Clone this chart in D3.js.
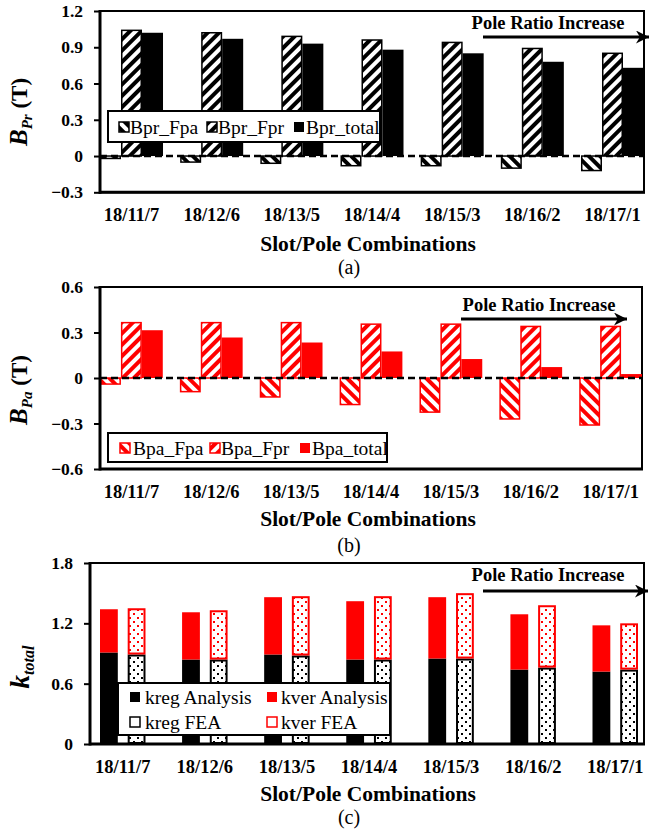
<!DOCTYPE html>
<html><head><meta charset="utf-8">
<script src="https://cdn.jsdelivr.net/npm/d3@7"></script>
<style>
body{margin:0;background:#fff;}
svg{display:block;}
svg text{font-family:"Liberation Serif","Times New Roman",serif !important;}
</style></head><body>
<svg id="chart" width="667" height="829"></svg>
<script>
// ---------- data ----------
const categories = ["18/11/7","18/12/6","18/13/5","18/14/4","18/15/3","18/16/2","18/17/1"];
const bprFpa   = [-0.02,-0.05,-0.06,-0.08,-0.08,-0.10,-0.12];
const bprFpr   = [1.04,1.02,0.99,0.96,0.94,0.89,0.85];
const bprTotal = [1.02,0.97,0.93,0.88,0.85,0.78,0.73];
const bpaFpa   = [-0.04,-0.09,-0.125,-0.175,-0.225,-0.27,-0.31];
const bpaFpr   = [0.365,0.365,0.365,0.355,0.355,0.34,0.34];
const bpaTotal = [0.315,0.267,0.234,0.175,0.125,0.072,0.026];
const kregAnalysis = [0.91,0.84,0.89,0.84,0.85,0.74,0.72];
const kverAnalysis = [0.43,0.47,0.57,0.58,0.61,0.55,0.46];
const kregFEA      = [0.89,0.84,0.88,0.84,0.85,0.76,0.74];
const kverFEA      = [0.46,0.49,0.59,0.63,0.65,0.62,0.46];
const ticksBpr = [-0.3,0,0.3,0.6,0.9,1.2];
const ticksBpa = [-0.6,-0.3,0,0.3,0.6];
const ticksK   = [0,0.6,1.2,1.8];
const legendBpr = ["Bpr_Fpa","Bpr_Fpr","Bpr_total"];
const legendBpa = ["Bpa_Fpa","Bpa_Fpr","Bpa_total"];
const legendK   = ["kreg Analysis","kver Analysis","kreg FEA","kver FEA"];
const xTitle = "Slot/Pole Combinations";
const arrowText = "Pole Ratio Increase";

// ---------- setup ----------
const FONT = "Liberation Serif, Times New Roman, serif";
const RED = "#ff0000";
const svg = d3.select("#chart");
const defs = svg.append("defs");
function stripe(id, color, angle){
  const p = defs.append("pattern").attr("id",id).attr("patternUnits","userSpaceOnUse")
    .attr("width",8).attr("height",8).attr("patternTransform",`rotate(${angle})`);
  p.append("rect").attr("width",8).attr("height",8).attr("fill","#fff");
  p.append("rect").attr("width",4).attr("height",8).attr("fill",color);
}
stripe("upBlack","#000",45); stripe("downBlack","#000",-45);
stripe("upRed",RED,45); stripe("downRed",RED,-45);
function dots(id,color){
  const p = defs.append("pattern").attr("id",id).attr("patternUnits","userSpaceOnUse").attr("width",8).attr("height",8);
  p.append("rect").attr("width",8).attr("height",8).attr("fill","#fff");
  p.append("rect").attr("x",1).attr("y",1).attr("width",2).attr("height",2).attr("fill",color);
  p.append("rect").attr("x",5).attr("y",5).attr("width",2).attr("height",2).attr("fill",color);
}
dots("dotBlack","#000"); dots("dotRed",RED);
defs.append("marker").attr("id","arrowHead").attr("viewBox","0 0 10 10").attr("refX",10).attr("refY",5)
  .attr("markerUnits","userSpaceOnUse").attr("markerWidth",15).attr("markerHeight",13).attr("orient","auto")
  .append("path").attr("d","M0,0 L10,5 L0,10 L3,5 z").attr("fill","#000");

const fmt = d => d === 0 ? "0" : d3.format(".1f")(d);

function yAxis(g, y, x0, ticks){
  const ax = g.append("g").attr("transform",`translate(${x0},0)`)
    .call(d3.axisLeft(y).tickValues(ticks).tickSize(6).tickPadding(11).tickFormat(fmt));
  ax.attr("font-family",FONT).attr("font-size",17.5).attr("font-weight","bold");
  ax.select(".domain").remove();
  ax.selectAll(".tick line").attr("stroke","#000").attr("stroke-width",2);
  ax.selectAll(".tick text").attr("fill","#000");
}
function xAxis(g, x, yb, labelY){
  const ax = g.append("g").attr("transform",`translate(0,${yb})`)
    .call(d3.axisBottom(x).tickSize(0));
  ax.attr("font-family",FONT).attr("font-size",18.5).attr("font-weight","bold");
  ax.select(".domain").remove();
  ax.selectAll(".tick text").attr("fill","#000").attr("y",labelY-yb).attr("dy","0.35em");
}
function frame(g,x0,x1,yt,yb){
  g.append("rect").attr("x",x0).attr("y",yt).attr("width",x1-x0).attr("height",yb-yt)
    .attr("fill","none").attr("stroke","#000").attr("stroke-width",2);
}
function axisLines(g,x0,x1,yt,yb){
  g.append("line").attr("x1",x0).attr("x2",x0).attr("y1",yt-1).attr("y2",yb+1.5).attr("stroke","#000").attr("stroke-width",3);
  g.append("line").attr("x1",x0).attr("x2",x1+1).attr("y1",yb).attr("y2",yb).attr("stroke","#000").attr("stroke-width",3);
}
function titles(g, t){
  const tt = g.append("text").attr("transform",`translate(${t.x},${t.y}) rotate(-90)`)
    .attr("text-anchor","middle").attr("font-family",FONT).attr("font-weight","bold").attr("fill","#000");
  tt.append("tspan").attr("font-size",25).attr("font-style","italic").text(t.main);
  tt.append("tspan").attr("font-size",15).attr("font-style","italic").attr("dy",5).text(t.sub);
  if(t.rest) tt.append("tspan").attr("font-size",23).attr("dy",-5).text(t.rest);
  g.append("text").attr("x",368).attr("y",t.axisTitleY).attr("dy","0.35em").attr("text-anchor","middle")
    .attr("font-family",FONT).attr("font-size",21.5).attr("font-weight","bold").text(xTitle);
  g.append("text").attr("x",349).attr("y",t.capY).attr("dy","0.35em").attr("text-anchor","middle")
    .attr("font-family",FONT).attr("font-size",20).text(t.cap);
}
function arrow(g,a){
  g.append("line").attr("x1",a.x1).attr("x2",a.x2).attr("y1",a.y).attr("y2",a.y)
    .attr("stroke","#000").attr("stroke-width",3).attr("marker-end","url(#arrowHead)");
  g.append("text").attr("x",a.tx).attr("y",a.ty).attr("dy","0.35em").attr("text-anchor","middle")
    .attr("font-family",FONT).attr("font-size",18.5).attr("font-weight","bold").text(arrowText);
}
function legendBox(g,b){
  g.append("rect").attr("x",b.x).attr("y",b.y).attr("width",b.w).attr("height",b.h)
    .attr("fill","#fff").attr("stroke","#000").attr("stroke-width",2);
  b.items.forEach(it=>{
    g.append("rect").attr("x",it.mx).attr("y",it.cy-5).attr("width",10).attr("height",10)
      .attr("fill",it.fill).attr("stroke",it.stroke||"none").attr("stroke-width",1.5);
    g.append("text").attr("x",it.tx).attr("y",it.cy).attr("dy","0.35em")
      .attr("font-family",FONT).attr("font-size",19.5).attr("fill","#000").text(it.label);
  });
}

// ---------- panels (a) and (b) ----------
function barPanel(c){
  const g = svg.append("g");
  const x = d3.scaleBand().domain(categories).range([c.x0,c.x1]).paddingInner(0.214).paddingOuter(0);
  const sub = d3.scaleBand().domain([0,1,2]).range([0,x.bandwidth()]).padding(0);
  const y = d3.scaleLinear().domain(c.domain).range([c.yb,c.yt]);
  frame(g,c.x0,c.x1,c.yt,c.yb);
  c.series.forEach((s,i)=>{
    g.append("g").selectAll("rect").data(s.values).join("rect")
      .attr("x",(d,j)=>x(categories[j])+sub(i)+ (s.stroke!=="none"?0.75:0))
      .attr("y",d=>y(Math.max(0,d)))
      .attr("width",sub.bandwidth()-(s.stroke!=="none"?1.5:0))
      .attr("height",d=>Math.abs(y(d)-y(0)))
      .attr("fill",s.fill).attr("stroke",s.stroke).attr("stroke-width",1.5);
  });
  g.append("line").attr("x1",c.x0).attr("x2",c.x1).attr("y1",y(0)).attr("y2",y(0))
    .attr("stroke","#000").attr("stroke-width",2.5).attr("stroke-dasharray","7,4");
  yAxis(g,y,c.x0,c.ticks);
  xAxis(g,x,c.yb,c.labelY);
  axisLines(g,c.x0,c.x1,c.yt,c.yb);
  legendBox(g,c.legend);
  titles(g,c.title);
  arrow(g,c.arrow);
}

barPanel({
  x0:100, x1:644, yt:11, yb:192.3, domain:[-0.3,1.2], ticks:ticksBpr, labelY:215,
  series:[{values:bprFpa,fill:"url(#downBlack)",stroke:"#000"},
          {values:bprFpr,fill:"url(#upBlack)",stroke:"#000"},
          {values:bprTotal,fill:"#000",stroke:"none"}],
  legend:{x:108,y:111,w:272,h:31,items:[
    {mx:119,tx:130,cy:127,label:legendBpr[0],fill:"url(#downBlack)",stroke:"#000"},
    {mx:207,tx:218,cy:127,label:legendBpr[1],fill:"url(#upBlack)",stroke:"#000"},
    {mx:294,tx:306,cy:127,label:legendBpr[2],fill:"#000"}]},
  title:{x:27,y:112,main:"B",sub:"Pr",rest:" (T)",axisTitleY:243,capY:267,cap:"(a)"},
  arrow:{x1:483,x2:649,y:37,tx:548,ty:22.5}
});

barPanel({
  x0:100, x1:642, yt:287, yb:469, domain:[-0.6,0.6], ticks:ticksBpa, labelY:491.7,
  series:[{values:bpaFpa,fill:"url(#downRed)",stroke:RED},
          {values:bpaFpr,fill:"url(#upRed)",stroke:RED},
          {values:bpaTotal,fill:RED,stroke:"none"}],
  legend:{x:108,y:433,w:279,h:29,items:[
    {mx:120,tx:133,cy:448,label:legendBpa[0],fill:"url(#downRed)",stroke:RED},
    {mx:210,tx:221,cy:448,label:legendBpa[1],fill:"url(#upRed)",stroke:RED},
    {mx:300,tx:312,cy:448,label:legendBpa[2],fill:RED}]},
  title:{x:27,y:390,main:"B",sub:"Pa",rest:" (T)",axisTitleY:518,capY:545,cap:"(b)"},
  arrow:{x1:461,x2:627,y:319,tx:539,ty:305}
});

// ---------- panel (c) ----------
(function(){
  const x0=90, x1=644, yt=563, yb=744;
  const g = svg.append("g");
  const x = d3.scaleBand().domain(categories).range([100,638]).paddingInner(0.4457).paddingOuter(0);
  const sub = d3.scaleBand().domain(["Analysis","FEA"]).range([0,x.bandwidth()]).paddingInner(0.357).paddingOuter(0);
  const y = d3.scaleLinear().domain([0,1.8]).range([yb,yt]);
  frame(g,x0,x1,yt,yb);
  const groups = [
    {key:"Analysis", reg:kregAnalysis, ver:kverAnalysis, regFill:"#000", verFill:RED, regStroke:"none", verStroke:"none"},
    {key:"FEA", reg:kregFEA, ver:kverFEA, regFill:"url(#dotBlack)", verFill:"url(#dotRed)", regStroke:"#000", verStroke:RED}
  ];
  groups.forEach(gr=>{
    const stacked = d3.stack().keys(["reg","ver"])(categories.map((c,i)=>({reg:gr.reg[i],ver:gr.ver[i]})));
    stacked.forEach(layer=>{
      const isReg = layer.key==="reg";
      const stroke = isReg?gr.regStroke:gr.verStroke;
      const inset = stroke==="none"?0:1;
      g.append("g").selectAll("rect").data(layer).join("rect")
        .attr("x",(d,j)=>x(categories[j])+sub(gr.key)+inset)
        .attr("y",d=>y(d[1])+inset)
        .attr("width",sub.bandwidth()-2*inset)
        .attr("height",d=>y(d[0])-y(d[1])-2*inset)
        .attr("fill",isReg?gr.regFill:gr.verFill).attr("stroke",stroke).attr("stroke-width",2);
    });
  });
  yAxis(g,y,x0,ticksK);
  xAxis(g,x,yb,767);
  axisLines(g,x0,x1,yt,yb);
  legendBox(g,{x:118,y:683,w:272,h:52,items:[
    {mx:130,tx:145,cy:697,label:legendK[0],fill:"#000"},
    {mx:267,tx:281,cy:697,label:legendK[1],fill:RED},
    {mx:130,tx:145,cy:722,label:legendK[2],fill:"#fff",stroke:"#000"},
    {mx:267,tx:281,cy:722,label:legendK[3],fill:"#fff",stroke:RED}]});
  const tt = g.append("text").attr("transform","translate(29,667) rotate(-90)")
    .attr("text-anchor","middle").attr("font-family",FONT).attr("font-weight","bold").attr("fill","#000");
  tt.append("tspan").attr("font-size",27).attr("font-style","italic").text("k");
  tt.append("tspan").attr("font-size",16).attr("font-style","italic").attr("dy",5).text("total");
  g.append("text").attr("x",368).attr("y",793).attr("dy","0.35em").attr("text-anchor","middle")
    .attr("font-family",FONT).attr("font-size",21.5).attr("font-weight","bold").text(xTitle);
  g.append("text").attr("x",349).attr("y",817).attr("dy","0.35em").attr("text-anchor","middle")
    .attr("font-family",FONT).attr("font-size",20).text("(c)");
  arrow(g,{x1:483,x2:648,y:591,tx:548,ty:575});
})();
</script>
</body></html>
